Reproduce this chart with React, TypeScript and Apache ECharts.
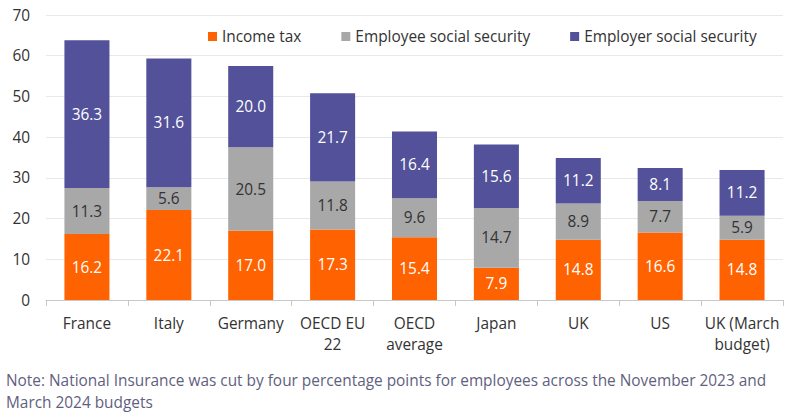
import React, { useEffect, useRef } from "react";
import * as echarts from "echarts";

const categories = ["France", "Italy", "Germany", "OECD EU\n22", "OECD\naverage", "Japan", "UK", "US", "UK (March\nbudget)"];
const incomeTax = [16.2, 22.1, 17.0, 17.3, 15.4, 7.9, 14.8, 16.6, 14.8];
const employeeSS = [11.3, 5.6, 20.5, 11.8, 9.6, 14.7, 8.9, 7.7, 5.9];
const employerSS = [36.3, 31.6, 20.0, 21.7, 16.4, 15.6, 11.2, 8.1, 11.2];
const noteText = "Note: National Insurance was cut by four percentage points for employees across the November 2023 and\nMarch 2024 budgets";

const FONT = "'Open Sans', sans-serif";
const FS = 15.4;

export default function App() {
  const ref = useRef<HTMLDivElement>(null);
  useEffect(() => {
    document.body.style.margin = "0";
    const chart = echarts.init(ref.current!, null, { renderer: "svg" });
    const label = (color: string) => ({
      show: true,
      position: "inside" as const,
      color,
      fontSize: FS,
      fontFamily: FONT,
      formatter: (p: any) => Number(p.value).toFixed(1),
    });
    chart.setOption({
      animation: false,
      textStyle: { fontFamily: FONT },
      grid: { left: 46, right: 14, top: 15, bottom: 118 },
      legend: {
        left: 203,
        top: 24,
        itemWidth: 9,
        itemHeight: 9,
        itemGap: 40,
        icon: "rect",
        textStyle: { fontSize: FS, color: "#333", fontFamily: FONT },
        data: ["Income tax", "Employee social security", "Employer social security"],
      },
      xAxis: {
        type: "category",
        data: categories,
        axisLine: { lineStyle: { color: "#c8c8c8" } },
        axisTick: { show: true, length: 6, lineStyle: { color: "#c8c8c8" } },
        axisLabel: { color: "#333", fontSize: FS, fontFamily: FONT, margin: 13, lineHeight: 21, interval: 0 },
      },
      yAxis: {
        type: "value",
        min: 0,
        max: 70,
        interval: 10,
        axisLine: { show: false },
        axisTick: { show: false },
        splitLine: { lineStyle: { color: "#e8e8e8" } },
        axisLabel: { color: "#333", fontSize: FS, fontFamily: FONT, margin: 16 },
      },
      series: [
        { name: "Income tax", type: "bar", stack: "t", data: incomeTax, barWidth: "55%", itemStyle: { color: "#FF6200" }, label: label("#fff") },
        { name: "Employee social security", type: "bar", stack: "t", data: employeeSS, itemStyle: { color: "#A8A8A8" }, label: label("#333") },
        { name: "Employer social security", type: "bar", stack: "t", data: employerSS, itemStyle: { color: "#525199" }, label: label("#fff") },
      ],
      graphic: [
        {
          type: "text",
          left: 6,
          top: 369,
          style: { text: noteText, fontSize: FS, lineHeight: 22, fill: "#5f5f80", fontFamily: FONT },
        },
      ],
    });
    return () => chart.dispose();
  }, []);
  return <div ref={ref} style={{ width: 797, height: 418 }} />;
}
